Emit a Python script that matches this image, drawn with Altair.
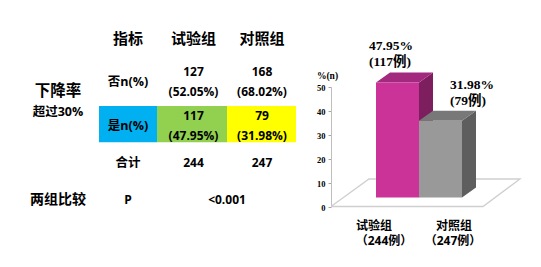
import altair as alt
import pandas as pd

# ---------------- data ----------------
groups = ["试验组", "对照组"]
group_n = [244, 247]
no_counts = [127, 168]
no_pcts = [52.05, 68.02]
yes_counts = [117, 79]
yes_pcts = [47.95, 31.98]
p_text = "<0.001"
header_labels = ["指标", "试验组", "对照组"]
row_labels = ["否n(%)", "是n(%)", "合计"]
side_title = ["下降率", "超过30%"]
compare_label = "两组比较"
p_label = "P"
y_ticks = [0, 10, 20, 30, 40, 50]
y_unit = "%(n)"

# ---------------- style ----------------
CJK = "Open Sans, Noto Sans CJK SC"
SERIF = "Liberation Serif, Noto Sans CJK SC"
CELL_COLORS = ["#00B0F0", "#92D050", "#FFFF00"]
FRONT = ["#CC3399", "#999999"]
TOP = ["#A3297F", "#787878"]
SIDE = ["#7D1F5F", "#5E5E5E"]

# table scales (column / row slots)
TX = alt.Scale(domain=[0, 0.5, 1, 1.5, 2, 2.5, 3, 3.5],
               range=[58, 99, 128, 157, 193.5, 227, 262, 296], zero=False, nice=False)
TY = alt.Scale(domain=[0, 1, 2, 3, 4],
               range=[38.5, 82, 125.5, 162.5, 200], zero=False, nice=False)

# bar scales
BX_DOMAIN, BX_RANGE = [-0.5, 1.5], [376, 462]
BY_DOMAIN, BY_RANGE = [0, 50], [207, 87]
BX = alt.Scale(domain=BX_DOMAIN, range=BX_RANGE, zero=False, nice=False)
BY = alt.Scale(domain=BY_DOMAIN, range=BY_RANGE, zero=False, nice=False)
PXX = (BX_RANGE[1] - BX_RANGE[0]) / (BX_DOMAIN[1] - BX_DOMAIN[0])
PXY = (BY_RANGE[0] - BY_RANGE[1]) / (BY_DOMAIN[1] - BY_DOMAIN[0])
DX, DY = 14, 10         # bar depth in px
LIFT = -9.5             # bars stand a little behind the floor front edge
FLOOR_PX = [(331, 206.5), (483, 206.5), (520, 179), (369, 179), (331, 206.5)]

Y_AXIS = alt.Axis(orient="left", offset=-331, values=y_ticks, grid=False,
                  domainColor="#bfbfbf", tickColor="#a6a6a6", tickSize=3,
                  labelPadding=3, labelFont="Liberation Serif", labelFontWeight="bold",
                  labelFontSize=8.5, labelColor="black",
                  title=y_unit, titleAngle=0, titleX=-4, titleY=75, titleAlign="center",
                  titleBaseline="middle", titleFont="Liberation Serif",
                  titleFontSize=9.5, titleFontWeight="bold", titleColor="black")


def BXe(f):
    return alt.X(f"{f}:Q", scale=BX, axis=None)


def BYe(f):
    return alt.Y(f"{f}:Q", scale=BY, axis=Y_AXIS, stack=None)


# ---------------- table ----------------
cells, cells2 = [], []
for c, t in enumerate(header_labels):
    cells.append(dict(cx=c + 1, cy=0, t=t, fs=15))
for r, t in enumerate(row_labels):
    cells.append(dict(cx=1, cy=r + 1, t=t, fs=12.5))
for i in range(len(groups)):
    cells2.append(dict(cx=i + 2, cy=1, t=f"{no_counts[i]}\n({no_pcts[i]:.2f}%)", fs=12))
    cells2.append(dict(cx=i + 2, cy=2, t=f"{yes_counts[i]}\n({yes_pcts[i]:.2f}%)", fs=12))
    cells.append(dict(cx=i + 2, cy=3, t=f"{group_n[i]}", fs=12))
cells.append(dict(cx=0, cy=4, t=compare_label, fs=14))
cells.append(dict(cx=1, cy=4, t=p_label, fs=12))
cells.append(dict(cx=2.5, cy=4, t=p_text, fs=12))
cells_df = pd.DataFrame(cells)
cells2_df = pd.DataFrame(cells2)

fill_df = pd.DataFrame({"col": [1, 2, 3], "row": [2, 2, 2], "c": CELL_COLORS})

fills = alt.Chart(fill_df).mark_rect().transform_calculate(
    x0="datum.col - 0.5", x1="datum.col + 0.5",
    y0="datum.row - 0.45", y1="datum.row + 0.45"
).encode(
    x=alt.X("x0:Q", scale=TX, axis=None), x2="x1:Q",
    y=alt.Y("y0:Q", scale=TY, axis=None), y2="y1:Q",
    color=alt.Color("c:N", scale=None),
)


def table_text(df, dy=0):
    return alt.Chart(df).mark_text(
        font=CJK, fontWeight="bold", lineBreak="\n", lineHeight=20,
        align="center", baseline="middle", color="black", dy=dy
    ).encode(
        x=alt.X("cx:Q", scale=TX, axis=None),
        y=alt.Y("cy:Q", scale=TY, axis=None),
        text="t:N",
        size=alt.Size("fs:Q", scale=None),
    )


side_df = pd.DataFrame({"cx": [0], "cy": [1.5], "a": [side_title[0]], "b": [side_title[1]]})
side_a = alt.Chart(side_df).mark_text(font=CJK, fontWeight="bold", fontSize=15.5,
                                      baseline="middle", dy=-13, color="black").encode(
    x=alt.X("cx:Q", scale=TX, axis=None), y=alt.Y("cy:Q", scale=TY, axis=None), text="a:N")
side_b = alt.Chart(side_df).mark_text(font=CJK, fontWeight="bold", fontSize=12.5,
                                      baseline="middle", dy=8.5, color="black").encode(
    x=alt.X("cx:Q", scale=TX, axis=None), y=alt.Y("cy:Q", scale=TY, axis=None), text="b:N")

table = alt.layer(fills, table_text(cells_df), table_text(cells2_df, dy=-10), side_a, side_b)

# ---------------- 3D bars ----------------
bars_df = pd.DataFrame({
    "i": list(range(len(groups))), "v": yes_pcts, "g": groups, "n": group_n,
    "front": FRONT, "topc": TOP, "sidec": SIDE,
    "lab": [f"{v:.2f}%\n({c}例)" for v, c in zip(yes_pcts, yes_counts)],
    "nlab": [f"（{n}例）" for n in group_n],
})
# face outlines in pixels relative to the bar's front-top corners (depends on bar height)
bars_df["top_path"] = [f"M0,0L{DX},{-DY}L{DX + PXX},{-DY}L{PXX},0Z" for _ in yes_pcts]
bars_df["side_path"] = [f"M0,0L{DX},{-DY}L{DX},{v * PXY - DY:.2f}L0,{v * PXY:.2f}Z"
                        for v in yes_pcts]

floor_df = pd.DataFrame([
    dict(k=k, x=BX_DOMAIN[0] + (px - BX_RANGE[0]) / PXX, y=(BY_RANGE[0] - py) / PXY)
    for k, (px, py) in enumerate(FLOOR_PX)
])

floor = alt.Chart(floor_df).mark_line(color="#cfcfcf", strokeWidth=1.3).encode(
    x=BXe("x"), y=BYe("y"), order="k:Q")

bar_base = alt.Chart(bars_df).transform_calculate(
    x0="datum.i - 0.5", x1="datum.i + 0.5", base="0")

# custom path symbols: size 4 -> path units are pixels
side_faces = bar_base.mark_point(
    filled=True, size=4, opacity=1, strokeWidth=0, yOffset=LIFT
).encode(
    x=BXe("x1"), y=BYe("v"),
    shape=alt.Shape("side_path:N", scale=None),
    color=alt.Color("sidec:N", scale=None),
)
top_faces = bar_base.mark_point(
    filled=True, size=4, opacity=1, strokeWidth=0, yOffset=LIFT
).encode(
    x=BXe("x0"), y=BYe("v"),
    shape=alt.Shape("top_path:N", scale=None),
    color=alt.Color("topc:N", scale=None),
)

front = bar_base.mark_rect(yOffset=LIFT, y2Offset=LIFT).encode(
    x=BXe("x0"), x2="x1:Q", y=BYe("v"), y2="base:Q",
    color=alt.Color("front:N", scale=None),
)

VALUE_DX = [-7, 31]
NAME_DX = [-23.5, 13.5]
COUNT_DX = [-13.5, 12.5]

labels = []
for i in range(len(groups)):
    base = alt.Chart(bars_df).transform_filter(f"datum.i == {i}").transform_calculate(
        x0="datum.i - 0.5", zero="0")
    labels.append(base.mark_text(
        font=SERIF, fontWeight="bold", fontSize=13.5, lineBreak="\n", lineHeight=16,
        align="left", baseline="middle", dx=VALUE_DX[i], dy=-45.5, color="black"
    ).encode(x=BXe("x0"), y=BYe("v"), text="lab:N"))
    labels.append(base.mark_text(
        font=CJK, fontWeight="bold", fontSize=12, align="center", baseline="middle",
        dx=NAME_DX[i], dy=18.5, color="black"
    ).encode(x=BXe("i"), y=BYe("zero"), text="g:N"))
    labels.append(base.mark_text(
        font=CJK, fontWeight="bold", fontSize=12, align="center", baseline="middle",
        dx=COUNT_DX[i], dy=34, color="black"
    ).encode(x=BXe("i"), y=BYe("zero"), text="nlab:N"))

# draw order: pink faces before gray front
bars = alt.layer(floor, side_faces, top_faces, front, *labels)

chart = alt.layer(table, bars).resolve_scale(
    x="independent", y="independent"
).properties(
    width=541, height=267, padding=0,
    autosize=alt.AutoSizeParams(type="none"),
    background="white",
).configure_view(stroke=None)

chart.save("out.html", embed_options={"renderer": "svg", "actions": False})
